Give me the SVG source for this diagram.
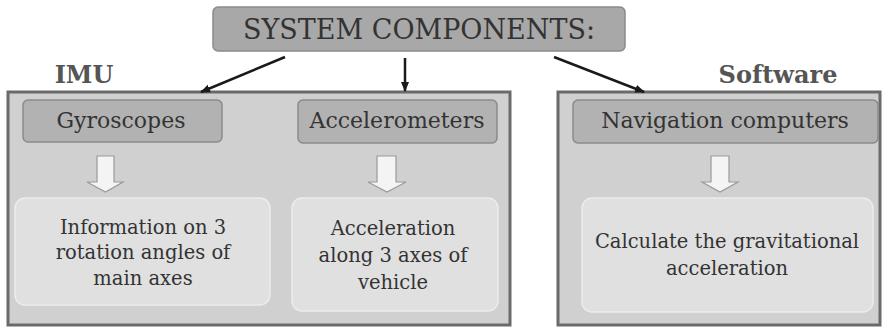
<svg xmlns="http://www.w3.org/2000/svg" width="882" height="328" viewBox="0 0 882 328">
<defs>
<style>
.t{font-family:"DejaVu Serif","Liberation Serif",serif;fill:#333;text-anchor:middle}
.outer{fill:#d0d0d0;stroke:#6a6a6a;stroke-width:3}
.hdr{fill:#b2b2b2;stroke:#8a8a8a;stroke-width:1.5}
.low{fill:#e0e0e0;stroke:#ececec;stroke-width:1.5}
.barr{fill:#f4f4f4;stroke:#9a9a9a;stroke-width:1.2}
.lbl{font-family:"DejaVu Serif","Liberation Serif",serif;font-weight:bold;fill:#555;font-size:24px;text-anchor:middle}
.conn{stroke:#1a1a1a;stroke-width:2.5;fill:none}
</style>
<marker id="ah" viewBox="0 0 10 10" refX="9" refY="5" markerWidth="4" markerHeight="4" orient="auto" markerUnits="strokeWidth">
<path d="M0,1 L10,5 L0,9 z" fill="#1a1a1a"/>
</marker>
</defs>
<rect width="882" height="328" fill="#fff"/>
<g id="top">
<rect x="213" y="7" width="412" height="44" rx="5" fill="#a8a8a8" stroke="#8a8a8a" stroke-width="1.5"/>
<text class="t" x="419" y="39" font-size="27">SYSTEM COMPONENTS:</text>
</g>
<g id="imu">
<text class="lbl" x="84" y="83">IMU</text>
<rect class="outer" x="8" y="92" width="502" height="233"/>
</g>
<g id="software">
<text class="lbl" x="778" y="83">Software</text>
<rect class="outer" x="558" y="92" width="322" height="233"/>
</g>
<g id="gyro">
<rect class="hdr" x="23" y="100" width="199" height="42" rx="5"/>
<text class="t" x="121" y="128" font-size="22">Gyroscopes</text>
</g>
<g id="accel">
<rect class="hdr" x="298" y="100" width="199" height="43" rx="5"/>
<text class="t" x="397" y="128" font-size="22">Accelerometers</text>
</g>
<g id="nav">
<rect class="hdr" x="573" y="100" width="305" height="43" rx="5"/>
<text class="t" x="725" y="128" font-size="22">Navigation  computers</text>
</g>
<g id="arrow-gyro"><path class="barr" d="M97,156 H114 V182 H123 L105.5,192 L87,182 H97 Z"/></g>
<g id="arrow-accel"><path class="barr" d="M377,156 H396 V182 H406 L387,192 L368,182 H377 Z"/></g>
<g id="arrow-nav"><path class="barr" d="M711,156 H729 V182 H738 L720,192 L702,182 H711 Z"/></g>
<g id="info">
<rect class="low" x="15" y="198" width="255" height="107" rx="10"/>
<text class="t" x="143" y="234" font-size="19.5">Information on 3</text>
<text class="t" x="143" y="259" font-size="19.5">rotation angles of</text>
<text class="t" x="143" y="285" font-size="19.5">main axes</text>
</g>
<g id="accinfo">
<rect class="low" x="292" y="198" width="206" height="113" rx="10"/>
<text class="t" x="393" y="235" font-size="19.5">Acceleration</text>
<text class="t" x="393" y="262" font-size="19.5">along 3 axes of</text>
<text class="t" x="393" y="289" font-size="19.5">vehicle</text>
</g>
<g id="calc">
<rect class="low" x="582" y="198" width="291" height="114" rx="10"/>
<text class="t" x="727" y="248" font-size="19.5">Calculate the gravitational</text>
<text class="t" x="727" y="275" font-size="19.5">acceleration</text>
</g>
<g id="connectors">
<line class="conn" x1="285" y1="57" x2="201" y2="92" marker-end="url(#ah)"/>
<line class="conn" x1="405" y1="58" x2="405" y2="91" marker-end="url(#ah)"/>
<line class="conn" x1="554" y1="57" x2="644" y2="92" marker-end="url(#ah)"/>
</g>
</svg>
